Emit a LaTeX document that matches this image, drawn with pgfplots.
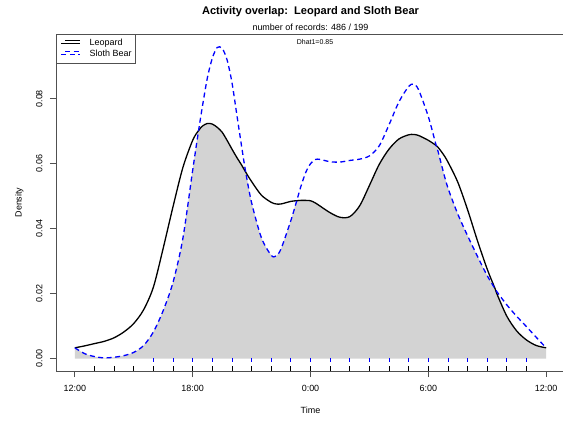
\documentclass[border=0pt]{standalone}
\usepackage{pgfplots}
\pgfplotsset{compat=1.18}
\usepackage{pgfplotstable}
\usepackage{fontspec}
\setmainfont{Liberation Sans}

\definecolor{overlapgray}{RGB}{211,211,211}
\definecolor{framegray}{RGB}{80,80,80}

% Kernel density estimates of activity (hours, 12 = noon, 24 = midnight, 36 = next noon)
% L = Leopard, B = Sloth Bear, m = overlap (lower of the two curves)
\pgfplotstableread{
h      L       B       m
12     0.0033  0.0033  0.0033
12.5   0.0039  0.0015  0.0015
13     0.0046  0.0006  0.0006
13.5   0.0053  0.0002  0.0002
14     0.0064  0.0004  0.0004
14.5   0.0082  0.0009  0.0009
15     0.0108  0.0019  0.0019
15.5   0.0150  0.0040  0.0040
16     0.0220  0.0082  0.0082
16.5   0.0340  0.0148  0.0148
17     0.0468  0.0235  0.0235
17.5   0.0588  0.0370  0.0370
18     0.0672  0.0580  0.0580
18.3   0.0702  0.0702  0.0702
18.5   0.0716  0.0778  0.0716
18.75  0.0724  0.0865  0.0724
19     0.0722  0.0925  0.0722
19.25  0.0712  0.0958  0.0712
19.5   0.0697  0.0955  0.0697
19.75  0.0672  0.0920  0.0672
20     0.0645  0.0850  0.0645
20.25  0.0619  0.0750  0.0619
20.5   0.0595  0.0650  0.0595
20.7   0.0574  0.0574  0.0574
21     0.0545  0.0480  0.0480
21.5   0.0503  0.0372  0.0372
22     0.0481  0.0318  0.0318
22.25  0.0476  0.0316  0.0316
22.5   0.0476  0.0338  0.0338
23     0.0484  0.0425  0.0425
23.3   0.0486  0.0486  0.0486
23.5   0.0487  0.0528  0.0487
23.75  0.0487  0.0572  0.0487
24     0.0486  0.0600  0.0486
24.25  0.0479  0.0613  0.0479
24.5   0.0469  0.0613  0.0469
25     0.0449  0.0606  0.0449
25.5   0.0435  0.0605  0.0435
26     0.0437  0.0610  0.0437
26.5   0.0470  0.0614  0.0470
27     0.0533  0.0624  0.0533
27.5   0.0598  0.0655  0.0598
28     0.0645  0.0720  0.0645
28.5   0.0676  0.0790  0.0676
29     0.0689  0.0838  0.0689
29.25  0.0690  0.0845  0.0690
29.5   0.0687  0.0828  0.0687
30     0.0672  0.0745  0.0672
30.4   0.0656  0.0656  0.0656
30.5   0.0650  0.0637  0.0637
30.75  0.0630  0.0578  0.0578
31     0.0605  0.0525  0.0525
31.5   0.0543  0.0445  0.0445
32     0.0458  0.0378  0.0378
32.5   0.0363  0.0315  0.0315
33     0.0275  0.0255  0.0255
33.4   0.0215  0.0215  0.0215
33.5   0.0198  0.0205  0.0198
34     0.0130  0.0165  0.0130
34.5   0.0085  0.0130  0.0085
35     0.0057  0.0098  0.0057
35.5   0.0040  0.0065  0.0040
36     0.0033  0.0033  0.0033
}\densities

\begin{document}
\begin{tikzpicture}[x=1bp,y=1bp]
\useasboundingbox (0,0) rectangle (563,421);
\begin{axis}[
  at={(56bp,50bp)}, anchor=south west,
  scale only axis, width=509bp, height=337bp,
  xmin=11.04, xmax=36.96, ymin=-0.00384, ymax=0.09994,
  axis line style={framegray, line width=0.8bp},
  xtick={12,18,24,30,36}, xticklabels={12:00,18:00,0:00,6:00,12:00},
  ytick={0,0.02,0.04,0.06,0.08}, yticklabels={0.00,0.02,0.04,0.06,0.08},
  scaled y ticks=false,
  xtick pos=left, ytick pos=left,
  tick align=outside, major tick length=6bp,
  tick style={framegray, line width=0.8bp},
  tick label style={font=\fontsize{9}{10}\selectfont, inner sep=0pt},
  xticklabel style={anchor=base}, xticklabel shift=14bp,
  yticklabel style={rotate=90, anchor=base}, yticklabel shift=7.5bp,
  xlabel={Time}, ylabel={Density},
  label style={font=\fontsize{9}{10}\selectfont, inner sep=0pt},
  xlabel style={at={(axis description cs:0.5,-0.1255)}, anchor=base},
  ylabel style={at={(axis description cs:-0.0674,0.5)}, rotate=0, anchor=base},
  legend style={at={(axis description cs:0,1)}, anchor=north west,
    draw=framegray, line width=0.8bp, fill=white,
    font=\fontsize{9}{10}\selectfont,
    inner xsep=4.3bp, inner ysep=5bp, row sep=2.5bp, column sep=9bp,
    nodes={inner sep=0pt, text height=6.5bp, text depth=1.9bp}},
  legend cell align=left,
  legend image code/.code={\path (0bp,0bp) -- (18.7bp,0bp);
    \draw[#1] (3.7bp,3bp) -- (18.7bp,3bp);},
]
% overlap area under the lower of the two densities
\addplot[draw=none, fill=overlapgray, smooth, forget plot]
  table[x=h, y=m]{\densities} \closedcycle;
\addplot[black, line width=1.3bp, smooth] table[x=h, y=L]{\densities};
\addlegendentry{Leopard}
\addplot[blue, line width=1.3bp, dash pattern=on 5bp off 3.5bp, smooth]
  table[x=h, y=B]{\densities};
\addlegendentry{Sloth Bear}
% rug of record times
\addplot[only marks, mark=|, mark size=2.15bp, black, forget plot,
  mark options={line width=0.8bp}] coordinates {
  (13,-0.0031) (14,-0.0031) (15,-0.0031) (16,-0.0031) (17,-0.0031)
  (18,-0.0031) (19,-0.0031) (20,-0.0031) (21,-0.0031) (22,-0.0031)
  (23,-0.0031) (24,-0.0031) (25,-0.0031) (26,-0.0031) (27,-0.0031)
  (28,-0.0031) (29,-0.0031) (30,-0.0031) (31,-0.0031) (32,-0.0031)
  (33,-0.0031) (34,-0.0031) (35,-0.0031)};
\addplot[only marks, mark=|, mark size=2bp, blue, forget plot,
  mark options={line width=0.8bp}] coordinates {
  (16,-0.0004) (17,-0.0004) (18,-0.0004) (19,-0.0004) (20,-0.0004)
  (21,-0.0004) (22,-0.0004) (23,-0.0004) (24,-0.0004) (25,-0.0004)
  (26,-0.0004) (27,-0.0004) (28,-0.0004) (29,-0.0004) (30,-0.0004)
  (31,-0.0004) (32,-0.0004) (33,-0.0004) (34,-0.0004) (35,-0.0004)};
\node[font=\fontsize{7}{8}\selectfont, anchor=base, inner sep=0pt]
  at (axis description cs:0.5,1) [yshift=-11bp, xshift=4.5bp] {Dhat1=0.85};
\end{axis}
\node[font=\bfseries\fontsize{11.1}{13}\selectfont, anchor=base, inner sep=0pt]
  at (310.5,406) {Activity overlap:\ \ Leopard and Sloth Bear};
\node[font=\fontsize{9}{10}\selectfont, anchor=base, inner sep=0pt]
  at (310.5,390) {number of records: 486 / 199};
\end{tikzpicture}
\end{document}
